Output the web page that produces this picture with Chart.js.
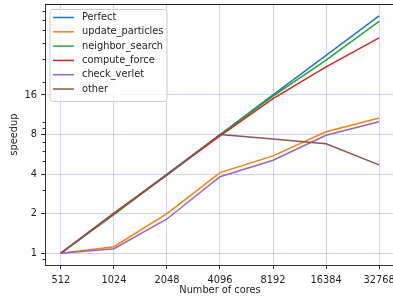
<!DOCTYPE html>
<html>
<head>
<meta charset="utf-8">
<script src="https://cdn.jsdelivr.net/npm/chart.js@4/dist/chart.umd.min.js"></script>
<style>
  html, body { margin: 0; padding: 0; background: #fff; overflow: hidden; width: 393px; height: 299px; }
  #wrap { width: 420px; height: 299px; }
</style>
</head>
<body>
<div id="wrap"><canvas id="c" width="420" height="299"></canvas></div>
<script>
const cores = [512, 1024, 2048, 4096, 8192, 16384, 32768];
const perfect = [1, 2, 4, 8, 16, 32, 64];
const updateParticles = [1, 1.12, 2.0, 4.1, 5.5, 8.4, 10.7];
const neighborSearch = [1, 1.96, 3.95, 7.9, 15.7, 29.5, 58];
const computeForce = [1, 2.02, 3.95, 7.8, 15.0, 26.2, 43.5];
const checkVerlet = [1, 1.08, 1.82, 3.82, 5.1, 7.9, 10.0];
const other = [1, 2.0, 3.92, 8.0, 7.4, 6.8, 4.7];

const seriesNames = ['Perfect', 'update_particles', 'neighbor_search', 'compute_force', 'check_verlet', 'other'];
const seriesValues = [perfect, updateParticles, neighborSearch, computeForce, checkVerlet, other];
const seriesColors = ['#1f77b4', '#ff7f0e', '#2ca02c', '#d62728', '#9467bd', '#8c564b'];

const xTicks = cores;
const yTicks = [1, 2, 4, 8, 16];
const yMinorTicks = [0.9, 3, 5, 6, 7, 9, 10, 20, 30, 40, 50, 60, 70];

const FONT = "'DejaVu Sans', sans-serif";
const FSIZE = 9.8;

const datasets = seriesNames.map((name, i) => ({
  label: name,
  data: cores.map((c, j) => ({ x: c, y: seriesValues[i][j] })),
  borderColor: seriesColors[i],
  backgroundColor: seriesColors[i],
  borderWidth: 1.5,
  pointRadius: 0,
  tension: 0,
  fill: false,
  order: seriesNames.length - i
}));

const decorPlugin = {
  id: 'decor',
  afterDraw(chart) {
    const ctx = chart.ctx;
    const a = chart.chartArea;
    const ys = chart.scales.y;
    ctx.save();
    // top spine
    ctx.strokeStyle = '#222';
    ctx.lineWidth = 1;
    ctx.beginPath();
    ctx.moveTo(a.left, a.top + 0.5);
    ctx.lineTo(a.right, a.top + 0.5);
    ctx.stroke();
    // minor ticks
    ctx.strokeStyle = '#333';
    ctx.lineWidth = 1;
    yMinorTicks.forEach(v => {
      const py = Math.round(ys.getPixelForValue(v)) + 0.5;
      if (py < a.top || py > a.bottom) return;
      ctx.beginPath();
      ctx.moveTo(a.left - 2.5, py);
      ctx.lineTo(a.left, py);
      ctx.stroke();
    });
    // legend
    const lx = a.left + 5, ly = a.top + 5.5, lw = 117, lh = 92;
    ctx.beginPath();
    const r = 3;
    ctx.moveTo(lx + r, ly);
    ctx.lineTo(lx + lw - r, ly);
    ctx.arcTo(lx + lw, ly, lx + lw, ly + r, r);
    ctx.lineTo(lx + lw, ly + lh - r);
    ctx.arcTo(lx + lw, ly + lh, lx + lw - r, ly + lh, r);
    ctx.lineTo(lx + r, ly + lh);
    ctx.arcTo(lx, ly + lh, lx, ly + lh - r, r);
    ctx.lineTo(lx, ly + r);
    ctx.arcTo(lx, ly, lx + r, ly, r);
    ctx.closePath();
    ctx.fillStyle = 'rgba(255,255,255,0.8)';
    ctx.fill();
    ctx.strokeStyle = '#cccccc';
    ctx.lineWidth = 1;
    ctx.stroke();
    ctx.font = FSIZE + 'px ' + FONT;
    ctx.textBaseline = 'middle';
    ctx.textAlign = 'left';
    chart.data.datasets.forEach((ds, i) => {
      const cy = ly + 8 + i * 14.3;
      ctx.strokeStyle = ds.borderColor;
      ctx.lineWidth = 1.5;
      ctx.beginPath();
      ctx.moveTo(lx + 3, cy);
      ctx.lineTo(lx + 24, cy);
      ctx.stroke();
      ctx.fillStyle = '#222';
      ctx.fillText(ds.label, lx + 32, cy);
    });
    ctx.restore();
  }
};

new Chart(document.getElementById('c'), {
  type: 'line',
  data: { datasets },
  plugins: [decorPlugin],
  options: {
    responsive: false,
    animation: false,
    devicePixelRatio: 1,
    layout: { padding: { top: 4, right: 25, left: 0, bottom: 0 } },
    plugins: { legend: { display: false }, tooltip: { enabled: false } },
    scales: {
      x: {
        type: 'logarithmic',
        bounds: 'data',
        min: Math.pow(2, 8.7),
        max: Math.pow(2, 15.3),
        afterBuildTicks(scale) { scale.ticks = xTicks.map(v => ({ value: v })); },
        afterFit(scale) { scale.height = 34; scale.paddingLeft = 0; scale.paddingRight = 0; },
        ticks: {
          autoSkip: false, maxRotation: 0, minRotation: 0, padding: 6,
          color: '#222',
          font: { family: FONT, size: FSIZE },
          callback: (v) => String(v)
        },
        grid: { color: 'rgba(0,0,255,0.18)', lineWidth: 1, tickLength: 4, tickColor: '#333', drawOnChartArea: true },
        border: { display: true, color: '#333', width: 1 },
        title: { display: true, text: 'Number of cores', color: '#222', font: { family: FONT, size: FSIZE }, padding: { top: 0, bottom: 3 } }
      },
      y: {
        type: 'logarithmic',
        bounds: 'data',
        min: Math.pow(2, -0.3),
        max: Math.pow(2, 6.3),
        afterBuildTicks(scale) { scale.ticks = yTicks.map(v => ({ value: v })); },
        afterFit(scale) { scale.width = 45; scale.paddingTop = 0; scale.paddingBottom = 0; },
        ticks: {
          autoSkip: false, padding: 4,
          color: '#222',
          font: { family: FONT, size: FSIZE },
          callback: (v) => String(v)
        },
        grid: { color: 'rgba(0,0,255,0.18)', lineWidth: 1, tickLength: 4, tickColor: '#333' },
        border: { display: true, color: '#333', width: 1 },
        title: { display: true, text: 'speedup', color: '#222', font: { family: FONT, size: FSIZE }, padding: { top: 9, bottom: 0 } }
      }
    }
  }
});
</script>
</body>
</html>
